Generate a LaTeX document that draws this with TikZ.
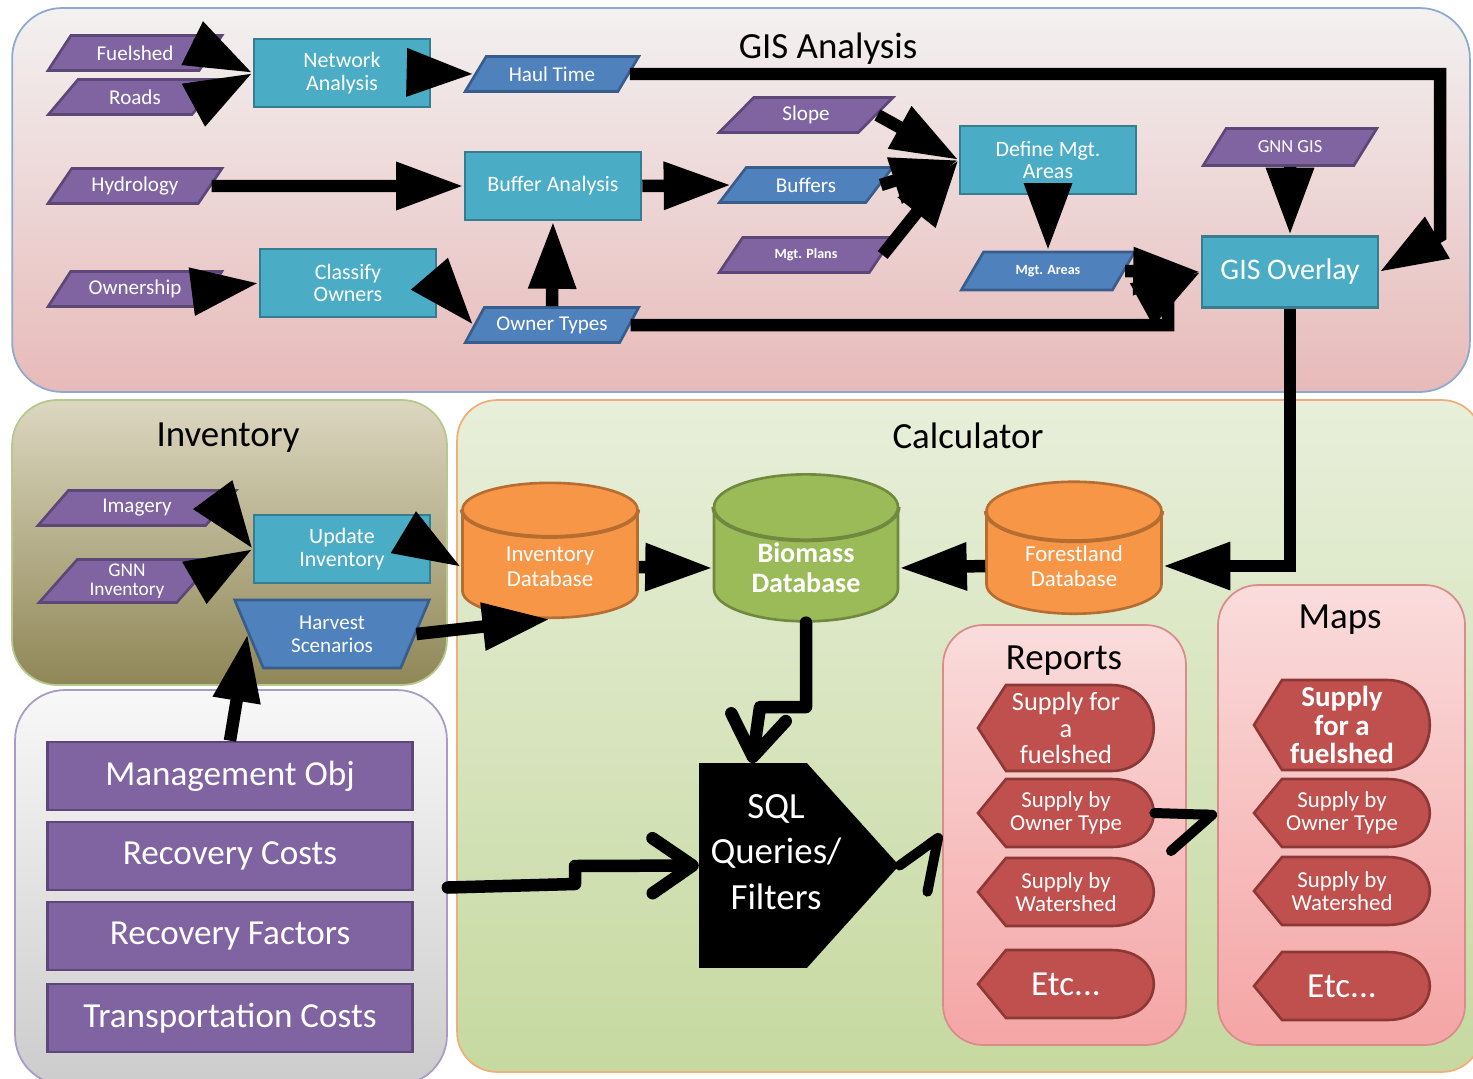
\documentclass[tikz,border=0pt]{standalone}
\usepackage{fontspec}
\setmainfont{Carlito}
\usetikzlibrary{shapes.geometric,shapes.symbols,arrows.meta,calc}

\definecolor{procfill}{HTML}{4BACC6}
\definecolor{procedge}{HTML}{357D91}
\definecolor{purpfill}{HTML}{8064A2}
\definecolor{purpedge}{HTML}{5C4776}
\definecolor{bluefill}{HTML}{4F81BD}
\definecolor{blueedge}{HTML}{385D8A}
\definecolor{orangefill}{HTML}{F79646}
\definecolor{orangeedge}{HTML}{B66D31}
\definecolor{greenfill}{HTML}{9BBB59}
\definecolor{greenedge}{HTML}{71893F}
\definecolor{redfill}{HTML}{C0504D}
\definecolor{rededge}{HTML}{8C3836}
\definecolor{gistop}{HTML}{F3F1F1}
\definecolor{gisbot}{HTML}{E7BAB9}
\definecolor{gisedge}{HTML}{8EA9CF}
\definecolor{invtop}{HTML}{DCD7C0}
\definecolor{invbot}{HTML}{8F8757}
\definecolor{invedge}{HTML}{B5C98E}
\definecolor{objtop}{HTML}{F8F8F8}
\definecolor{objbot}{HTML}{CCCCCC}
\definecolor{objedge}{HTML}{A99BC7}
\definecolor{calctop}{HTML}{E8EFDA}
\definecolor{calcbot}{HTML}{C6D9A0}
\definecolor{calcedge}{HTML}{F2AE78}
\definecolor{reptop}{HTML}{FADCDC}
\definecolor{repbot}{HTML}{F5A5A5}
\definecolor{repedge}{HTML}{D98C8A}

\tikzset{
  panel/.style={draw, line width=1pt, rounded corners=1cm},
  paneltitle/.style={font=\fontsize{21}{24}\selectfont},
  proc/.style={rectangle, fill=procfill, draw=procedge, line width=1.5pt, text=white,
    align=center, minimum width=3.52cm, minimum height=1.36cm, inner sep=1pt,
    font=\fontsize{12.5}{13}\selectfont},
  datain/.style={trapezium, trapezium left angle=52, trapezium right angle=128,
    trapezium stretches=true, fill=purpfill, draw=purpedge, line width=1.5pt, text=white,
    align=center, minimum width=3.48cm, minimum height=0.7cm, inner sep=1pt,
    font=\fontsize{12}{12}\selectfont},
  dataout/.style={datain, fill=bluefill, draw=blueedge},
  harvestbox/.style={trapezium, shape border rotate=180, trapezium left angle=66,
    trapezium right angle=66, trapezium stretches=true, fill=bluefill, draw=blueedge,
    line width=1.5pt, text=white, align=center, minimum width=3.9cm, minimum height=1.36cm,
    inner sep=1pt, font=\fontsize{12}{13}\selectfont},
  dbase/.style={cylinder, shape border rotate=90, aspect=0.58, line width=1.5pt,
    text=white, align=center, inner sep=1pt, font=\fontsize{13}{14}\selectfont},
  objbox/.style={rectangle, fill=purpfill, draw=purpedge, line width=1.5pt, text=white,
    minimum width=7.3cm, minimum height=1.36cm, font=\fontsize{20}{22}\selectfont},
  sqlshape/.style={signal, signal to=east, signal pointer angle=96, fill=black,
    minimum width=4cm, minimum height=4.1cm, inner sep=0pt},
  sqltext/.style={text=white, align=center, font=\fontsize{21}{26}\selectfont},
  outshape/.style={fill=redfill, draw=rededge, line width=1.5pt},
  outtext/.style={text=white, align=center, inner sep=0pt, minimum width=3.52cm},
  bigarrow/.style={line width=0.25cm, -{Triangle[length=1.35cm, width=0.9cm]}},
  openarrow/.style={line width=0.25cm, line cap=round, line join=round,
    -{Straight Barb[length=0.8cm, width=1.1cm, round]}},
  halfarrow/.style={line width=0.2cm, line cap=round, line join=round,
    -{Straight Barb[harpoon, swap, length=0.8cm, width=1.5cm, round]}},
}

% output box: name, x, y, half height, font, text
\newcommand{\outbox}[6]{%
  \filldraw[outshape] (#2-88,#3) -- (#2-60,#3-#4) -- (#2+45,#3-#4)
    .. controls (#2+102,#3-#4) and (#2+102,#3+#4) .. (#2+45,#3+#4)
    -- (#2-60,#3+#4) -- cycle;
  \node[outtext, font=#5] (#1) at (#2,#3) {#6};
}
% front rim of a database top
\newcommand{\dbrim}[2]{%
  \draw[#2, line width=1.5pt] let \p1=(#1.top), \p2=(#1.after top), \p3=(#1.before top) in
    ({min(\x2,\x3)},\y2) arc[start angle=180, end angle=360,
      x radius={0.5*abs(\x3-\x2)}, y radius={\y1-\y2}];
}

\begin{document}
\begin{tikzpicture}[x=0.02cm, y=-0.02cm]
	\useasboundingbox (0,0) rectangle (1473,1078);
	\fill[white] (0,0) rectangle (1473,1078);

	% GIS Analysis panel
	\node[panel, top color=gistop, bottom color=gisbot, draw=gisedge,
		minimum width=29.16cm, minimum height=7.68cm] (gispanel) at (741,200) {};
	\node[paneltitle] (gistitle) at (828,49) {GIS Analysis};

	\node[datain] (fuelshed) at (135,53) {Fuelshed};
	\node[datain] (roads) at (135,97) {Roads};
	\node[proc] (network) at (342,73) {Network\\Analysis};
	\node[dataout] (haultime) at (552,74) {Haul Time};
	\node[datain] (hydrology) at (135,186) {Hydrology};
	\node[proc] (buffer) at (553,186) {Buffer Analysis};
	\node[datain] (ownership) at (135,289) {Ownership};
	\node[proc] (classify) at (348,283) {Classify\\Owners};
	\node[dataout] (ownertypes) at (552,325) {Owner Types};
	\node[datain] (slope) at (806,115) {Slope};
	\node[dataout] (buffers) at (806,185) {Buffers};
	\node[datain, font=\bfseries\fontsize{8}{9}\selectfont] (mgtplans) at (806,255) {Mgt. Plans};
	\node[proc] (define) at (1048,160) {Define Mgt.\\Areas};
	\node[dataout, minimum height=0.76cm, font=\bfseries\fontsize{8}{9}\selectfont] (mgtareas) at (1048,271) {Mgt. Areas};
	\node[datain, minimum height=0.74cm, font=\fontsize{10.5}{11}\selectfont] (gnngis) at (1290,147) {GNN GIS};
	\node[proc, minimum height=1.42cm, font=\fontsize{17}{18}\selectfont] (overlay) at (1290,272) {GIS Overlay};

	% Inventory panel
	\node[panel, top color=invtop, bottom color=invbot, draw=invedge, rounded corners=0.9cm,
		minimum width=8.7cm, minimum height=5.7cm] (invpanel) at (229.5,542.5) {};
	\node[paneltitle] (invtitle) at (228,438) {Inventory};

	\node[datain, minimum width=3.98cm] (imagery) at (137,508) {Imagery};
	\node[datain, minimum width=3.54cm, minimum height=0.86cm, font=\fontsize{11}{11}\selectfont] (gnninv) at (127,581) {GNN\\Inventory};
	\node[proc] (update) at (342,549) {Update\\Inventory};
	\node[harvestbox] (harvest) at (332,634) {Harvest\\Scenarios};

	% Objectives and costs
	\node[panel, top color=objtop, bottom color=objbot, draw=objedge,
		minimum width=8.64cm, minimum height=7.9cm] (objpanel) at (231,887.5) {};
	\node[objbox] (mgmtobj) at (230,776) {Management Obj};
	\node[objbox] (reccosts) at (230,856) {Recovery Costs};
	\node[objbox] (recfactors) at (230,936) {Recovery Factors};
	\node[objbox] (transcosts) at (230,1018) {Transportation Costs};

	% Calculator panel
	\node[panel, top color=calctop, bottom color=calcbot, draw=calcedge, rounded corners=0.8cm,
		minimum width=20.5cm, minimum height=13.44cm] (calcpanel) at (969.5,736) {};
	\node[paneltitle] (calctitle) at (968,436) {Calculator};

	\node[dbase, fill=orangefill, draw=orangeedge, minimum width=3.5cm, minimum height=2.7cm] (invdb) at (550,567) {Inventory\\Database};
	\dbrim{invdb}{orangeedge}
	\node[dbase, fill=greenfill, draw=greenedge, minimum width=3.68cm, minimum height=2.94cm,
		font=\bfseries\fontsize{16}{17}\selectfont] (biomass) at (806,568) {Biomass\\Database};
	\dbrim{biomass}{greenedge}
	\node[dbase, fill=orangefill, draw=orangeedge, minimum width=3.5cm, minimum height=2.64cm] (forestland) at (1074,566) {Forestland\\Database};
	\dbrim{forestland}{orangeedge}

	\node[sqlshape] (sql) at (753,865.5) {};
	\node[sqltext] (sqllabel) at (776,852) {SQL\\Queries/\\Filters};
	\coordinate (sqltop) at (752,763);

	% Reports
	\node[panel, top color=reptop, bottom color=repbot, draw=repedge, rounded corners=0.8cm,
		minimum width=4.86cm, minimum height=8.4cm] (reports) at (1064.5,835) {};
	\node[paneltitle] (reptitle) at (1064,661) {Reports};
	\outbox{rfuel}{1066}{728}{43}{\fontsize{15}{15}\selectfont}{Supply for\\a\\fuelshed}
	\outbox{rowner}{1066}{813}{34}{\fontsize{13}{13}\selectfont}{Supply by\\Owner Type}
	\outbox{rwater}{1066}{892}{34}{\fontsize{13}{13}\selectfont}{Supply by\\Watershed}
	\outbox{retc}{1066}{984}{34}{\fontsize{20}{22}\selectfont}{Etc...}

	% Maps
	\node[panel, top color=reptop, bottom color=repbot, draw=repedge, rounded corners=0.8cm,
		minimum width=4.94cm, minimum height=9.2cm] (maps) at (1341.5,815) {};
	\node[paneltitle] (maptitle) at (1340,620) {Maps};
	\outbox{mfuel}{1342}{725}{45}{\bfseries\fontsize{16.5}{16}\selectfont}{Supply\\for a\\fuelshed}
	\outbox{mowner}{1342}{813}{34}{\fontsize{13}{13}\selectfont}{Supply by\\Owner Type}
	\outbox{mwater}{1342}{891}{34}{\fontsize{13}{13}\selectfont}{Supply by\\Watershed}
	\outbox{metc}{1342}{986}{34}{\fontsize{20}{22}\selectfont}{Etc...}

	% GIS connectors
	\draw[bigarrow] (fuelshed.east) -- (network.west);
	\draw[bigarrow] (roads.east) -- (network.west);
	\draw[bigarrow] (network.east) -- (haultime.west);
	\draw[bigarrow] (haultime.east) -- (1440,74) -- (1440,236) -- (overlay.east);
	\draw[bigarrow] (hydrology.east) -- (buffer.west);
	\draw[bigarrow] (buffer.east) -- (buffers.west);
	\draw[bigarrow] (ownership.east) -- (classify.west);
	\draw[bigarrow] (classify.east) -- (ownertypes.west);
	\draw[bigarrow] (ownertypes.north) -- (buffer.south);
	\draw[bigarrow] (ownertypes.east) -- (1168,325) -- (1168,290) -- (overlay.west);
	\draw[bigarrow] (slope.east) -- (define.west);
	\draw[bigarrow] (buffers.east) -- (define.west);
	\draw[bigarrow] (mgtplans.east) -- (define.west);
	\draw[bigarrow] (define.south) -- (mgtareas.north);
	\draw[bigarrow] (mgtareas.east) -- (overlay.west);
	\draw[bigarrow] (gnngis.south) -- (overlay.north);
	\draw[bigarrow] (overlay.south) |- (forestland.east);

	% Inventory connectors
	\draw[bigarrow] (imagery.east) -- (update.west);
	\draw[bigarrow] (gnninv.east) -- (update.west);
	\draw[bigarrow] (update.east) -- (invdb.west);
	\draw[bigarrow] (harvest.east) -- (invdb.south);
	\draw[bigarrow] (mgmtobj.north) -- (harvest.west);

	% Calculator connectors
	\draw[bigarrow] (invdb.east) -- (biomass.west);
	\draw[bigarrow] (forestland.west) -- (biomass.east);
	\draw[openarrow] (biomass.south) -- (806,707) -- (760,707) -- (sqltop);
	\draw[openarrow] (objpanel.east) -- (575,884) -- (575,866) -- (sql.west);
	\draw[halfarrow] (sql.east) -- (reports.west);
	\draw[halfarrow] (rowner.east) -- (maps.west);

\end{tikzpicture}
\end{document}
